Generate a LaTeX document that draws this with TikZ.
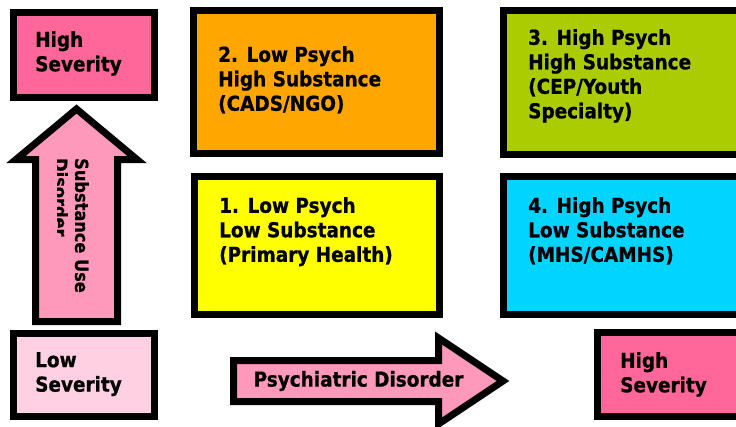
\documentclass[tikz,border=0pt]{standalone}
\usepackage{fontspec}
\setmainfont{DejaVu Sans Condensed}[BoldFeatures={FakeBold=0.8}]
\definecolor{hipink}{RGB}{255,102,153}
\definecolor{lopink}{RGB}{255,208,226}
\definecolor{arrowpink}{RGB}{255,153,187}
\definecolor{orangebox}{RGB}{255,166,0}
\definecolor{greenbox}{RGB}{170,204,0}
\definecolor{yellowbox}{RGB}{255,255,0}
\definecolor{cyanbox}{RGB}{0,212,255}
\tikzset{
  box/.style={draw=black, line width=7pt, inner sep=0pt, outer sep=0pt,
    anchor=north west, rectangle},
  boxtext/.style={anchor=north west, inner sep=0pt, align=left,
    font=\fontsize{20.5}{24.5}\selectfont\bfseries},
  arrowshape/.style={draw=black, line width=7pt, fill=arrowpink, line join=miter},
}
\begin{document}
\begin{tikzpicture}[x=1pt, y=-1pt]
\useasboundingbox (0,0) rectangle (736,426);
\clip (0,0) rectangle (736,426);

% severity corner boxes
\node[box, fill=hipink, minimum width=141pt, minimum height=85pt] (hsup) at (13.5,12.5) {};
\node[box, fill=lopink, minimum width=141pt, minimum height=83pt] (lsev) at (13.5,333.5) {};
\node[box, fill=hipink, minimum width=170pt, minimum height=84pt] (hsright) at (597.5,332.5) {};

% quadrant boxes
\node[box, fill=orangebox, minimum width=246pt, minimum height=143pt] (q2) at (193.5,10.5) {};
\node[box, fill=greenbox, minimum width=260pt, minimum height=144pt] (q3) at (503.5,10.5) {};
\node[box, fill=yellowbox, minimum width=245pt, minimum height=138pt] (q1) at (194.5,176.5) {};
\node[box, fill=cyanbox, minimum width=260pt, minimum height=138pt] (q4) at (503.5,176.5) {};

% labels
\node[boxtext] (thsup) at (35,31) {High\\Severity};
\node[boxtext] (tlsev) at (35,352) {Low\\Severity};
\node[boxtext] (thsright) at (620,352) {High\\Severity};
\node[boxtext] (tq2) at (218,46) {2. Low Psych\\High Substance\\(CADS/NGO)};
\node[boxtext] (tq3) at (528,29) {3. High Psych\\High Substance\\(CEP/Youth\\Specialty)};
\node[boxtext] (tq1) at (219,197) {1. Low Psych\\Low Substance\\(Primary Health)};
\node[boxtext] (tq4) at (528,197) {4. High Psych\\Low Substance\\(MHS/CAMHS)};

% vertical axis arrow
\coordinate (vbase) at (76.5,321.5);
\coordinate (vtip) at (76.5,109);
\draw[arrowshape] (35.5,321.5) -- (35.5,159.5) -- (16,159.5) -- (vtip)
  -- (137,159.5) -- (117.5,159.5) -- (117.5,321.5) -- cycle;
\begin{scope}
  \clip (57,140) rectangle (114,318);
  \node[inner sep=0pt, anchor=north west, rotate=-90, align=left,
    font=\fontsize{18}{21}\selectfont\bfseries] (sud) at (89,158) {Substance Use\\Disorder};
\end{scope}

% horizontal axis arrow
\coordinate (htip) at (503,381);
\draw[arrowshape] (233.5,360.5) -- (438.5,360.5) -- (438.5,338) -- (htip)
  -- (438.5,424) -- (438.5,401.5) -- (233.5,401.5) -- cycle;
\node[inner sep=0pt, font=\fontsize{20.5}{24.5}\selectfont\bfseries] (psy) at (358.5,381) {Psychiatric Disorder};
\end{tikzpicture}
\end{document}
